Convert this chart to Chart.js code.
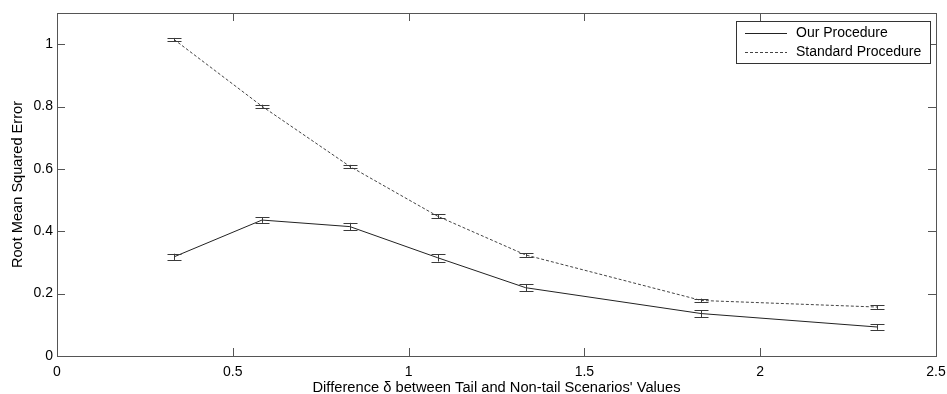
<!DOCTYPE html>
<html>
<head>
<meta charset="utf-8">
<script src="https://cdn.jsdelivr.net/npm/chart.js@4.4.1/dist/chart.umd.min.js"></script>
<style>
  body { margin: 0; background: #fff; }
  #wrap { width: 947px; height: 394px; }
</style>
</head>
<body>
<div id="wrap"><canvas id="rmseChart"></canvas></div>
<script>
// values
const deltas = [0.333, 0.583, 0.833, 1.083, 1.333, 1.833, 2.333]
const ourRmse = [0.318, 0.436, 0.415, 0.315, 0.219, 0.136, 0.093]
const ourErr = [0.010, 0.009, 0.012, 0.012, 0.012, 0.011, 0.009]
const stdRmse = [1.015, 0.801, 0.608, 0.448, 0.324, 0.178, 0.157]
const stdErr = [0.005, 0.005, 0.005, 0.006, 0.006, 0.006, 0.006]
const xTicks = [0, 0.5, 1, 1.5, 2, 2.5]
const yTicks = [0, 0.2, 0.4, 0.6, 0.8, 1]
const seriesNames = ['Our Procedure', 'Standard Procedure']

const font = 'Liberation Sans, Arial, sans-serif'
const fmt = v => String(+v.toFixed(2))

// box, inward ticks, error bars and the legend, MATLAB style
const matlabBits = {
  id: 'matlabBits',
  afterDatasetsDraw(chart) {
    const ctx = chart.ctx
    const xs = chart.scales.x, ys = chart.scales.y
    const a = chart.chartArea
    ctx.save()

    // error bars
    ctx.strokeStyle = '#3a3a3a'
    ctx.lineWidth = 1
    const bars = [[ourRmse, ourErr], [stdRmse, stdErr]]
    bars.forEach(([vals, errs]) => {
      vals.forEach((v, i) => {
        const px = Math.round(xs.getPixelForValue(deltas[i])) + 0.5
        const lo = ys.getPixelForValue(v - errs[i])
        const hi = ys.getPixelForValue(v + errs[i])
        ctx.beginPath()
        ctx.moveTo(px, lo); ctx.lineTo(px, hi)
        ctx.moveTo(px - 7, Math.round(lo) + 0.5); ctx.lineTo(px + 7, Math.round(lo) + 0.5)
        ctx.moveTo(px - 7, Math.round(hi) + 0.5); ctx.lineTo(px + 7, Math.round(hi) + 0.5)
        ctx.stroke()
      })
    })

    // axes box
    ctx.strokeStyle = '#555'
    ctx.strokeRect(Math.round(a.left) + 0.5, Math.round(a.top) + 0.5,
      Math.round(a.right - a.left), Math.round(a.bottom - a.top))

    // inward ticks on all four sides
    const tl = 8
    ctx.beginPath()
    xTicks.forEach(t => {
      const px = Math.round(xs.getPixelForValue(t)) + 0.5
      ctx.moveTo(px, a.bottom); ctx.lineTo(px, a.bottom - tl)
      ctx.moveTo(px, a.top); ctx.lineTo(px, a.top + tl)
    })
    yTicks.forEach(t => {
      const py = Math.round(ys.getPixelForValue(t)) + 0.5
      ctx.moveTo(a.left, py); ctx.lineTo(a.left + tl, py)
      ctx.moveTo(a.right, py); ctx.lineTo(a.right - tl, py)
    })
    ctx.stroke()

    // legend box
    const lx = 736, ly = 21, lw = 194, lh = 42
    ctx.fillStyle = '#fff'
    ctx.fillRect(lx, ly, lw, lh)
    ctx.strokeStyle = '#333'
    ctx.strokeRect(lx + 0.5, ly + 0.5, lw, lh)
    ctx.font = '14px ' + font
    ctx.textBaseline = 'middle'
    ctx.fillStyle = '#000'
    const rows = [33, 52]
    chart.data.datasets.forEach((ds, i) => {
      ctx.strokeStyle = ds.borderColor
      ctx.setLineDash(ds.borderDash || [])
      ctx.beginPath()
      ctx.moveTo(745, rows[i] + 0.5); ctx.lineTo(787, rows[i] + 0.5)
      ctx.stroke()
      ctx.setLineDash([])
      ctx.fillText(seriesNames[i], 796, rows[i])
    })
    ctx.restore()
  }
}

const ctx = document.getElementById('rmseChart').getContext('2d')

const myChart = new Chart(ctx, {
  type: 'scatter',
  data: {
    datasets: [
      {
        label: seriesNames[0],
        data: deltas.map((d, i) => ({ x: d, y: ourRmse[i] })),
        showLine: true,
        borderColor: '#222',
        borderWidth: 1,
        pointRadius: 0
      },
      {
        label: seriesNames[1],
        data: deltas.map((d, i) => ({ x: d, y: stdRmse[i] })),
        showLine: true,
        borderColor: '#444',
        borderWidth: 1,
        borderDash: [3, 2],
        pointRadius: 0
      }
    ]
  },
  options: {
    responsive: true,
    maintainAspectRatio: false,
    animation: false,
    layout: { padding: { top: 13, right: 11, left: 0, bottom: 0 } },
    plugins: {
      legend: { display: false },
      tooltip: { enabled: false }
    },
    scales: {
      x: {
        type: 'linear',
        min: 0,
        max: 2.5,
        grid: { display: false, drawTicks: false },
        border: { display: false },
        afterBuildTicks: s => { s.ticks = xTicks.map(v => ({ value: v })) },
        afterFit: s => { s.height = 38; s.paddingLeft = 0; s.paddingRight = 0 },
        ticks: {
          callback: fmt,
          color: '#000',
          padding: 8,
          maxRotation: 0,
          font: { family: font, size: 14 }
        },
        title: {
          display: true,
          text: "Difference δ between Tail and Non-tail Scenarios' Values",
          color: '#000',
          padding: { top: 0, bottom: -1 },
          font: { family: font, size: 14.7, lineHeight: 1 }
        }
      },
      y: {
        min: 0,
        max: 1.1,
        grid: { display: false, drawTicks: false },
        border: { display: false },
        afterBuildTicks: s => { s.ticks = yTicks.map(v => ({ value: v })) },
        afterFit: s => { s.width = 57 },
        ticks: {
          callback: fmt,
          color: '#000',
          padding: 4,
          font: { family: font, size: 14 }
        },
        title: {
          display: true,
          text: 'Root Mean Squared Error',
          color: '#000',
          padding: { top: 11, bottom: 0 },
          font: { family: font, size: 14.6, lineHeight: 1 }
        }
      }
    }
  },
  plugins: [matlabBits]
})
</script>
</body>
</html>
